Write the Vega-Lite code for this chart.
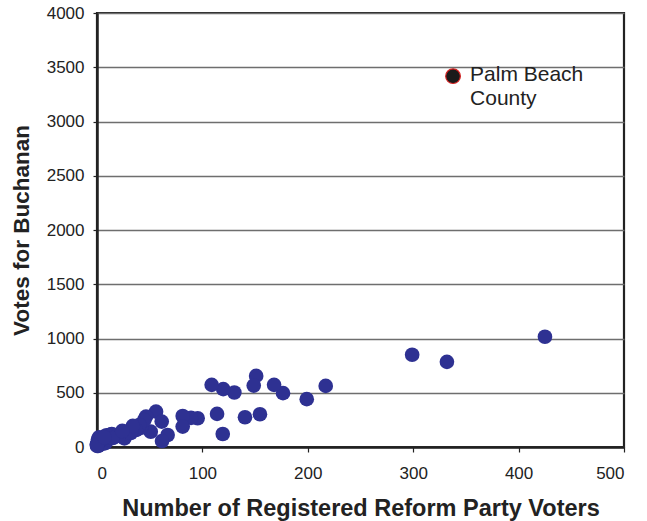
{
  "$schema": "https://vega.github.io/schema/vega-lite/v6.json",
  "autosize": {"type": "none"},
  "padding": {"left": 97, "top": 13, "right": 23, "bottom": 74},
  "width": 527,
  "height": 434,
  "background": "white",
  "config": {
    "font": "Liberation Sans",
    "view": {"stroke": "#222222", "strokeWidth": 2.2},
    "axis": {
      "labelFont": "Liberation Sans",
      "labelFontSize": 17,
      "labelColor": "#222222",
      "titleFont": "Liberation Sans",
      "titleFontWeight": "bold",
      "titleColor": "#222222",
      "domainColor": "#222222",
      "domainWidth": 2.5,
      "tickColor": "#222222",
      "tickWidth": 1.2,
      "tickSize": 5,
      "format": "d"
    }
  },
  "data": {
    "values": [
      {"reform": 337.8, "buchanan": 3418, "county": "Palm Beach", "label": "Palm Beach\nCounty"},
      {"reform": 425, "buchanan": 1016},
      {"reform": 299, "buchanan": 850},
      {"reform": 332, "buchanan": 785},
      {"reform": 217, "buchanan": 563},
      {"reform": 199, "buchanan": 441},
      {"reform": 176.5, "buchanan": 496},
      {"reform": 168, "buchanan": 573},
      {"reform": 151, "buchanan": 655},
      {"reform": 148.7, "buchanan": 566},
      {"reform": 154.6, "buchanan": 302},
      {"reform": 140.4, "buchanan": 274},
      {"reform": 130.3, "buchanan": 502},
      {"reform": 119.8, "buchanan": 533},
      {"reform": 108.8, "buchanan": 573},
      {"reform": 113.9, "buchanan": 305},
      {"reform": 119.3, "buchanan": 120},
      {"reform": 95.5, "buchanan": 265},
      {"reform": 89.2, "buchanan": 268},
      {"reform": 81.3, "buchanan": 286},
      {"reform": 81.3, "buchanan": 188},
      {"reform": 56, "buchanan": 326},
      {"reform": 46.5, "buchanan": 280},
      {"reform": 61.4, "buchanan": 234},
      {"reform": 67, "buchanan": 111},
      {"reform": 61.7, "buchanan": 55},
      {"reform": 51, "buchanan": 141},
      {"reform": 41.7, "buchanan": 176},
      {"reform": 44.9, "buchanan": 249},
      {"reform": 40, "buchanan": 203},
      {"reform": 37, "buchanan": 157},
      {"reform": 29, "buchanan": 141},
      {"reform": 26, "buchanan": 80},
      {"reform": 16.4, "buchanan": 111},
      {"reform": 7, "buchanan": 95},
      {"reform": 2, "buchanan": 34},
      {"reform": 0, "buchanan": 18},
      {"reform": 4, "buchanan": 65},
      {"reform": 11, "buchanan": 83},
      {"reform": 21, "buchanan": 102},
      {"reform": 32, "buchanan": 129},
      {"reform": 34, "buchanan": 194},
      {"reform": 0, "buchanan": 29},
      {"reform": 1, "buchanan": 9},
      {"reform": 2, "buchanan": 23},
      {"reform": 3, "buchanan": 39},
      {"reform": 4, "buchanan": 27},
      {"reform": 4, "buchanan": 37},
      {"reform": 6, "buchanan": 46},
      {"reform": 6, "buchanan": 33},
      {"reform": 8, "buchanan": 36},
      {"reform": 10, "buchanan": 67},
      {"reform": 1, "buchanan": 71},
      {"reform": 2, "buchanan": 90},
      {"reform": 6, "buchanan": 76},
      {"reform": 10, "buchanan": 102},
      {"reform": 14, "buchanan": 90},
      {"reform": 14, "buchanan": 120},
      {"reform": 9, "buchanan": 108},
      {"reform": 13, "buchanan": 114},
      {"reform": 15, "buchanan": 83},
      {"reform": 3, "buchanan": 65},
      {"reform": 4, "buchanan": 73},
      {"reform": 0, "buchanan": 22},
      {"reform": 0, "buchanan": 10},
      {"reform": 7, "buchanan": 89},
      {"reform": 24, "buchanan": 148}
    ]
  },
  "layer": [
    {
      "mark": {"type": "point", "shape": "circle", "filled": true, "size": 215, "opacity": 1},
      "encoding": {
        "x": {
          "field": "reform", "type": "quantitative",
          "scale": {"domain": [0, 500], "nice": false, "zero": true},
          "axis": {
            "values": [0, 100, 200, 300, 400, 500],
            "grid": false,
            "labelPadding": 13,
            "title": "Number of Registered Reform Party Voters",
            "titleFontSize": 23.5,
            "titlePadding": 15
          }
        },
        "y": {
          "field": "buchanan", "type": "quantitative",
          "scale": {"domain": [0, 4000], "nice": false},
          "axis": {
            "values": [0, 500, 1000, 1500, 2000, 2500, 3000, 3500, 4000],
            "grid": true,
            "gridColor": "#6e6e6e",
            "gridWidth": 1.4,
            "tickSize": 4,
            "labelPadding": 9,
            "title": "Votes for Buchanan",
            "titleFontSize": 22.5,
            "titlePadding": 13
          }
        },
        "color": {
          "condition": {"test": "datum.county === 'Palm Beach'", "value": "#1a1a1a"},
          "value": "#2e3192"
        },
        "stroke": {
          "condition": {"test": "datum.county === 'Palm Beach'", "value": "#d42020"},
          "value": "#2e3192"
        },
        "strokeWidth": {
          "condition": {"test": "datum.county === 'Palm Beach'", "value": 1.2},
          "value": 0
        }
      }
    },
    {
      "transform": [{"filter": "datum.label != null"}],
      "mark": {
        "type": "text", "align": "left", "baseline": "top", "dx": 17, "dy": -12,
        "fontSize": 21, "font": "Liberation Sans", "color": "#222222",
        "lineBreak": "\n", "lineHeight": 24
      },
      "encoding": {
        "x": {"field": "reform", "type": "quantitative"},
        "y": {"field": "buchanan", "type": "quantitative"},
        "text": {"field": "label"}
      }
    }
  ]
}
